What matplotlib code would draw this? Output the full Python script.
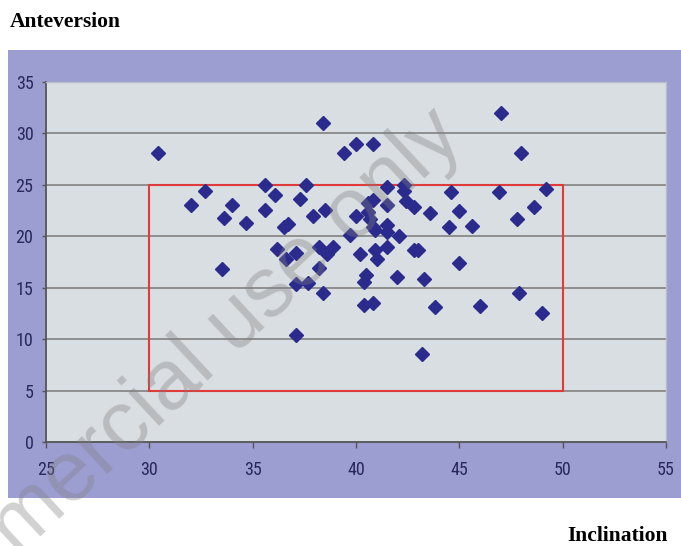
import matplotlib
matplotlib.use("Agg")
import matplotlib.pyplot as plt
from matplotlib.patches import Rectangle
from matplotlib import font_manager

# Inclination (x) and anteversion (y) of each cup
inclination = [
    30.4, 32.7, 32.0, 34.0, 33.6, 34.7, 35.6, 36.1, 35.6, 36.5, 36.7,
    38.4, 40.0, 40.8, 39.4, 37.6, 37.3, 37.9, 38.5, 41.5, 42.3, 42.3,
    42.4, 42.8, 43.6, 41.5, 40.0, 40.6, 40.8, 40.6, 40.7, 40.8, 40.9,
    41.5, 41.5, 39.7, 42.1, 47.0, 48.0, 44.6, 46.9, 49.2, 45.0, 48.6,
    47.8, 44.5, 45.6, 33.5, 36.2, 36.6, 37.1, 38.2, 38.6, 38.9, 38.2,
    37.1, 37.7, 38.4, 40.2, 40.9, 41.0, 41.5, 40.5, 40.4, 42.0, 43.3,
    42.8, 43.0, 40.4, 40.8, 43.8, 37.1, 43.2, 45.0, 46.0, 47.9, 49.0,
]
anteversion = [
    28.1, 24.4, 23.0, 23.0, 21.8, 21.3, 25.0, 24.0, 22.6, 20.9, 21.2,
    31.0, 29.0, 29.0, 28.1, 25.0, 23.6, 22.0, 22.6, 24.8, 25.0, 24.4,
    23.4, 22.8, 22.3, 23.0, 22.0, 23.2, 23.5, 22.4, 21.7, 20.9, 20.6,
    21.1, 20.4, 20.1, 20.0, 32.0, 28.1, 24.3, 24.3, 24.6, 22.5, 22.8,
    21.7, 20.9, 21.0, 16.8, 18.8, 17.8, 18.4, 19.0, 18.3, 19.0, 16.9,
    15.4, 15.5, 14.5, 18.3, 18.7, 17.8, 19.0, 16.2, 15.6, 16.0, 15.8,
    18.7, 18.7, 13.3, 13.5, 13.1, 10.4, 8.6, 17.4, 13.2, 14.5, 12.5,
]

# Safe zone: inclination 30-50, anteversion 5-25
safe_x = [30, 50]
safe_y = [5, 25]

x_ticks = [25, 30, 35, 40, 45, 50, 55]
y_ticks = [0, 5, 10, 15, 20, 25, 30, 35]

# pick a narrow font for tick labels if one is around
names = {f.name for f in font_manager.fontManager.ttflist}
tick_font = "DejaVu Sans"
for cand in ["Liberation Sans Narrow", "DejaVu Sans Condensed", "Roboto Condensed"]:
    if cand in names:
        tick_font = cand
        break

fig = plt.figure(figsize=(6.81, 5.46), dpi=100)
fig.patch.set_facecolor("white")

# purple frame behind the plot
frame = Rectangle((8 / 681, 48 / 546), 673 / 681, 448 / 546,
                  transform=fig.transFigure, facecolor="#9c9dd1",
                  edgecolor="none", zorder=0)
fig.patches.append(frame)

ax = fig.add_axes([46 / 681, 104 / 546, 620 / 681, 360 / 546])
ax.set_zorder(2)
ax.set_facecolor("#d9dee2")

ax.set_xlim(x_ticks[0], x_ticks[-1])
ax.set_ylim(y_ticks[0], y_ticks[-1])
ax.set_xticks(x_ticks)
ax.set_yticks(y_ticks)

# horizontal gridlines only
for yv in y_ticks[1:-1]:
    ax.axhline(yv, color="#8e8e8e", lw=1.4, zorder=1)

# safe zone box
ax.add_patch(Rectangle((safe_x[0], safe_y[0]), safe_x[1] - safe_x[0],
                       safe_y[1] - safe_y[0], fill=False,
                       edgecolor="#e03a3a", lw=1.5, zorder=2))

ax.plot(inclination, anteversion, linestyle="none", marker="D",
        markersize=7, color="#2b2b8e", markeredgecolor="#2b2b8e", zorder=3)

for side in ["left", "bottom"]:
    ax.spines[side].set_color("#555555")
    ax.spines[side].set_linewidth(1.3)
for side in ["top", "right"]:
    ax.spines[side].set_color("#b9bdc9")
    ax.spines[side].set_linewidth(1.0)

ax.tick_params(axis="x", length=4, width=1, color="#555555", pad=10,
               labelsize=13, labelcolor="#28285a")
ax.tick_params(axis="y", length=3, width=1, color="#555555", pad=6,
               labelsize=13, labelcolor="#28285a")
for lab in ax.get_xticklabels() + ax.get_yticklabels():
    lab.set_family(tick_font)
    lab.set_stretch("condensed")

fig.text(10 / 681, 1 - 22 / 546, "Anteversion", family="Liberation Serif",
         fontweight="bold", fontsize=15.5, ha="left", va="center")
fig.text(668 / 681, 1 - 536 / 546, "Inclination", family="Liberation Serif",
         fontweight="bold", fontsize=15.5, ha="right", va="center")

# watermark across the figure
fig.text(466 / 681, 1 - 140 / 546, "mercial use only",
         family="Liberation Sans", fontsize=61, color="#808080", alpha=0.36,
         rotation=43, rotation_mode="anchor", ha="right", va="baseline",
         zorder=10)

fig.savefig("out.png", dpi=100)
